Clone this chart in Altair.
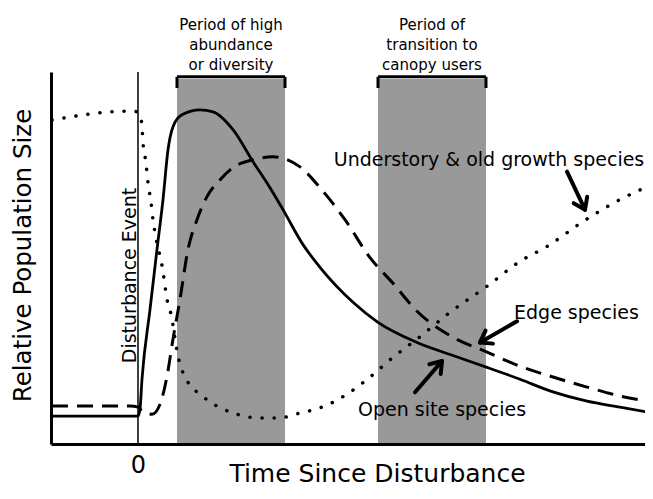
import math
import altair as alt
import pandas as pd

# ---------------- data ----------------
# time axis: 0 = disturbance event; relative population size 0..100
solid_x = [-8.6, 0.0, 0.2, 0.4, 1.2, 1.9, 2.5, 3.0, 3.5, 4.4, 6.2, 7.5, 9.5, 11.5, 13.2,
           14.5, 16.5, 18.2, 21.5, 24.0, 27.9, 31.5, 34.9, 38.2, 41.5, 44.9, 48.2, 51.5]
solid_y = [7.5, 7.5, 9.4, 17.4, 36.2, 52.3, 65.7, 79.1, 85.3, 88.5, 89.8, 89.3, 84.5, 75.9, 68.9,
           63.0, 53.6, 47.5, 38.1, 32.7, 27.3, 23.8, 20.6, 17.4, 14.0, 11.5, 9.9, 8.3]

dashed_x = [-8.6, -0.8, 0.0, 0.5, 1.4, 2.2, 2.9, 3.5, 4.2, 5.0, 5.9, 6.9, 8.2, 9.5, 11.5,
            13.5, 16.2, 18.2, 20.7, 23.2, 25.5, 27.9, 31.5, 34.9, 38.2, 41.5, 44.9, 48.2, 51.5]
dashed_y = [10.2, 10.2, 9.9, 8.6, 8.0, 10.7, 18.2, 28.2, 38.9, 52.3, 60.3, 66.5, 71.0, 74.3, 76.4,
            77.2, 74.5, 68.9, 60.3, 50.1, 43.2, 35.7, 28.7, 24.7, 20.9, 18.0, 15.3, 12.9, 11.3]

dotted_x = [-8.6, -0.8, -0.1, 0.2, 0.4, 0.5, 0.8, 1.0, 1.3, 1.5, 1.7, 2.5, 2.9, 3.3, 4.0,
            5.0, 6.2, 7.2, 8.5, 9.9, 11.2, 12.9, 14.2, 15.7, 17.0, 18.4, 20.9, 23.2, 25.5,
            27.9, 31.2, 34.9, 38.2, 40.9, 44.5, 48.2, 50.7]
dotted_y = [87.1, 89.5, 89.3, 88.5, 85.3, 81.0, 75.6, 70.2, 65.1, 60.3, 56.8, 46.4, 38.9, 34.9, 23.6,
            16.6, 13.4, 11.3, 9.4, 8.0, 7.2, 7.0, 7.0, 8.0, 8.8, 9.9, 13.4, 18.0, 23.3,
            28.2, 35.4, 42.4, 49.1, 53.1, 59.8, 65.7, 68.9]

band_start = [3.9, 24.0]
band_end = [14.7, 34.8]
band_top = [98.1, 98.1]
bracket_top = [98.7, 98.7]
bracket_foot = [95.7, 95.7]
band_labels = ["Period of high\nabundance\nor diversity", "Period of\ntransition to\ncanopy users"]

x_ticks = [0]
disturbance_t = [0]

species_labels = ["Understory & old growth species", "Edge species", "Open site species"]
label_t = [35.1, 37.6, 22.0]
label_v = [74.8, 33.5, 7.5]
label_align = ["center", "left", "left"]
arrow_tail = [(42.9, 73.2), (37.9, 33.0), (27.7, 13.9)]
arrow_tip = [(44.7, 63.0), (34.2, 27.3), (30.4, 22.3)]

# ---------------- layout ----------------
X_DOMAIN = [-8.7, 50.7]
Y_DOMAIN = [0, 100]
W, H = 594, 372
KX = W / (X_DOMAIN[1] - X_DOMAIN[0])
KY = H / (Y_DOMAIN[1] - Y_DOMAIN[0])
FONT = "DejaVu Sans"

x_scale = alt.Scale(domain=X_DOMAIN, nice=False, zero=False)
y_scale = alt.Scale(domain=Y_DOMAIN, nice=False, zero=False)

x_axis = alt.Axis(values=x_ticks, grid=False, ticks=False, domainWidth=3, domainColor="black",
                  labelFont=FONT, labelFontSize=24, labelColor="black", labelPadding=9,
                  labelFlush=False,
                  title="Time Since Disturbance", titleFont=FONT, titleFontSize=25,
                  titleFontWeight="normal", titleColor="black", titleX=326, titleY=37,
                  titleBaseline="alphabetic", titleAlign="center", zindex=1)
y_axis = alt.Axis(labels=False, ticks=False, grid=False, domainWidth=3, domainColor="black",
                  title="Relative Population Size", titleFont=FONT, titleFontSize=24.5,
                  titleFontWeight="normal", titleColor="black", titleX=-21, titleY=183,
                  titleBaseline="alphabetic", titleAlign="center", titleAngle=270, zindex=1)


def X(f):
    return alt.X(f, type="quantitative", scale=x_scale, axis=x_axis)


def Y(f):
    return alt.Y(f, type="quantitative", scale=y_scale, axis=y_axis)


# bands
bands = pd.DataFrame({"s": band_start, "e": band_end, "top": band_top, "bot": [0] * len(band_start),
                      "bt": bracket_top, "bf": bracket_foot,
                      "mid": [(a + b) / 2 for a, b in zip(band_start, band_end)],
                      "label": band_labels, "ly": [111.3] * len(band_start)})
band_layer = alt.Chart(bands).mark_rect(color="#999999").encode(x=X("s"), x2="e", y=Y("bot"), y2="top")
bracket_h = alt.Chart(bands).mark_rule(color="black", strokeWidth=3).encode(x=X("s"), x2="e", y=Y("bt"))
ticks_df = pd.DataFrame({"x": band_start + band_end, "bt": bracket_top + bracket_top,
                         "bf": bracket_foot + bracket_foot})
bracket_v = alt.Chart(ticks_df).mark_rule(color="black", strokeWidth=3).encode(x=X("x"), y=Y("bt"), y2="bf")
band_text = alt.Chart(bands).mark_text(font=FONT, fontSize=15, baseline="alphabetic", align="center",
                                       lineBreak="\n", lineHeight=20, color="black").encode(
    x=X("mid"), y=Y("ly"), text="label:N")

# disturbance line
dist_df = pd.DataFrame({"t": disturbance_t, "y0": [0], "y1": [100], "ty": [45.3], "tx": [-0.2],
                        "label": ["Disturbance Event"]})
dist_rule = alt.Chart(dist_df).mark_rule(color="black", strokeWidth=1.5).encode(x=X("t"), y=Y("y0"), y2="y1")
dist_text = alt.Chart(dist_df).mark_text(font=FONT, fontSize=19, angle=270, align="center",
                                         baseline="alphabetic", color="black").encode(
    x=X("tx"), y=Y("ty"), text="label:N")

# series
solid = alt.Chart(pd.DataFrame({"t": solid_x, "v": solid_y})).mark_line(
    color="black", strokeWidth=2.8, interpolate="monotone").encode(x=X("t"), y=Y("v"))
dashed = alt.Chart(pd.DataFrame({"t": dashed_x, "v": dashed_y})).mark_line(
    color="black", strokeWidth=3, strokeDash=[16, 9], interpolate="monotone").encode(x=X("t"), y=Y("v"))
dotted = alt.Chart(pd.DataFrame({"t": dotted_x, "v": dotted_y})).mark_line(
    color="black", strokeWidth=3.5, strokeDash=[0.1, 12], strokeCap="round",
    interpolate="monotone").encode(x=X("t"), y=Y("v"))

# annotations
lab_df = pd.DataFrame({"label": species_labels, "t": label_t, "v": label_v, "align": label_align})
lab_layers = []
for al in ["center", "left"]:
    lab_layers.append(alt.Chart(lab_df[lab_df["align"] == al]).mark_text(
        font=FONT, fontSize=19, align=al, baseline="alphabetic", color="black").encode(
        x=X("t"), y=Y("v"), text="label:N"))


def arrow_rows(tail, tip, head=13, spread=35):
    tx, ty = tail[0] * KX, -tail[1] * KY
    hx, hy = tip[0] * KX, -tip[1] * KY
    ang = math.atan2(ty - hy, tx - hx)
    rows = [dict(x=tail[0], y=tail[1], x2=tip[0], y2=tip[1])]
    for s in (-1, 1):
        a = ang + s * math.radians(spread)
        bx, by = hx + head * math.cos(a), hy + head * math.sin(a)
        rows.append(dict(x=bx / KX, y=-by / KY, x2=tip[0], y2=tip[1]))
    return rows


arrows = pd.DataFrame([r for tl, tp in zip(arrow_tail, arrow_tip) for r in arrow_rows(tl, tp)])
arrow_layer = alt.Chart(arrows).mark_rule(color="black", strokeWidth=4, strokeCap="round").encode(
    x=X("x"), y=Y("y"), x2="x2", y2="y2")

chart = alt.layer(
    band_layer, bracket_h, bracket_v, band_text, dist_rule, dist_text,
    dotted, dashed, solid, *lab_layers, arrow_layer
).properties(
    width=W, height=H,
    autosize=alt.AutoSizeParams(type="none"),
    padding={"left": 43, "top": 64, "right": 0, "bottom": 43},
    background="white",
).configure_view(stroke=None)

chart.save("out.html", embed_options={"renderer": "svg", "actions": False})
